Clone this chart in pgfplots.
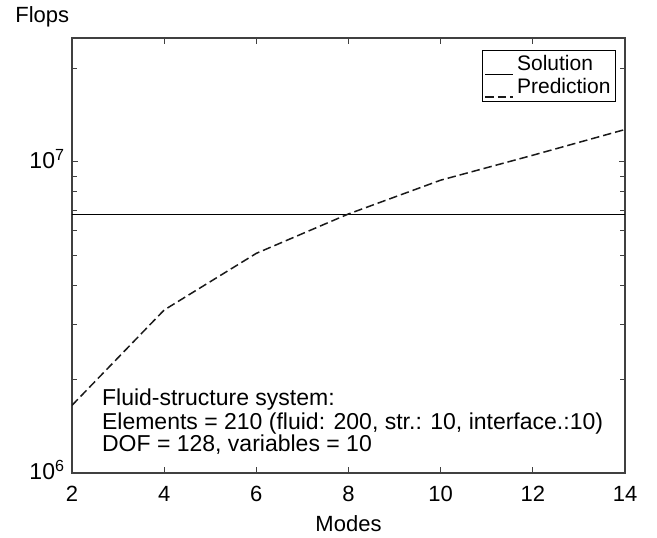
\documentclass[border=0pt]{standalone}
\usepackage{fontspec}
\setmainfont{Liberation Sans}
\usepackage{pgfplots}
\pgfplotsset{compat=1.18}
\begin{document}
\fontsize{11}{13}\selectfont
\begin{tikzpicture}
\begin{axis}[
  scale only axis,
  width=276.5pt, height=217.5pt,
  ymode=log,
  xmin=2, xmax=14, ymin=1e6, ymax=2.5e7,
  xtick={2,4,6,8,10,12,14},
  ytick={1e6,1e7},
  yticklabels={10\textsuperscript{6},10\textsuperscript{7}},
  minor ytick={2e6,3e6,4e6,5e6,6e6,7e6,8e6,9e6,2e7},
  /pgf/number format/assume math mode=true,
  tick align=inside,
  major tick length=2.8pt, minor tick length=2.5pt,
  every tick/.style={black!75, line width=0.5pt},
  axis line style={black!75, line width=0.75pt},
  xticklabel style={anchor=base, yshift=-14.5pt, inner sep=0pt},
  yticklabel style={anchor=base east, xshift=-3.3pt, yshift=-3.5pt, inner sep=0pt, font=\fontsize{11.5}{13}\selectfont},
  xlabel={Modes},
  xlabel style={at={(axis description cs:0.5,0)}, anchor=base, yshift=-29.3pt, inner sep=0pt},
  legend style={at={(rel axis cs:1,1)}, anchor=north east, xshift=-4.5pt, yshift=-6pt,
    draw=black, line width=0.5pt, inner xsep=1pt, inner ysep=1.5pt,
    font=\fontsize{10.5}{12}\selectfont, row sep=0pt,
    nodes={inner xsep=1.5pt, inner ysep=1pt}},
  legend cell align=left,
  legend image code/.code={\draw[#1] (0pt,-0.45em) -- (14pt,-0.45em);},
]
\addplot[black, line width=0.5pt] coordinates {(2,6.75e6) (14,6.75e6)};
\addlegendentry{Solution}
\addplot[black!90, line width=0.75pt, dash pattern=on 4.2pt off 2pt] coordinates {
  (2,1.65e6) (4,3.34e6) (6,5.08e6) (8,6.8e6) (10,8.73e6) (12,1.05e7) (14,1.27e7)};
\addlegendentry{Prediction}
\node[anchor=base west, inner sep=0pt, font=\fontsize{11.5}{13}\selectfont] at (rel axis cs:0.0537,0.154) {Fluid-structure system:};
\node[anchor=base west, inner sep=0pt, font=\fontsize{11.5}{13}\selectfont] at (rel axis cs:0.0537,0.1011) {Elements = 210 (fluid: 200, str.: 10, interface.:10)};
\node[anchor=base west, inner sep=0pt, font=\fontsize{11.5}{13}\selectfont] at (rel axis cs:0.0537,0.0483) {DOF = 128, variables = 10};
\end{axis}
\node[anchor=base west, inner sep=0pt] at ([xshift=-28.5pt,yshift=7.6pt]current axis.north west) {Flops};
\pgfresetboundingbox
\path ([shift={(-36pt,-32pt)}]current axis.south west) rectangle ([shift={(16pt,19pt)}]current axis.north east);
\end{tikzpicture}
\end{document}
